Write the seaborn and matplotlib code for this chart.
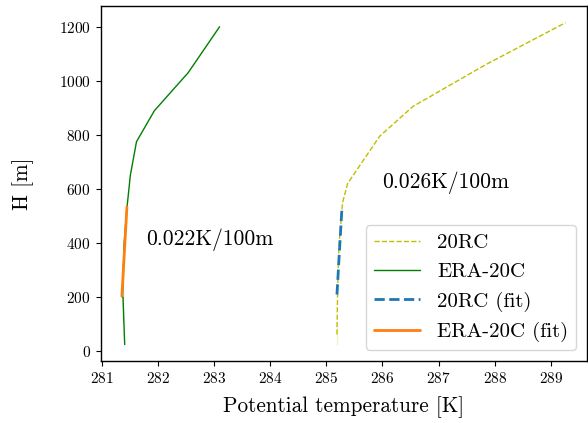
import numpy as np
import pandas as pd
import matplotlib
matplotlib.use('Agg')
import matplotlib.pyplot as plt
import seaborn as sns

# profile data
h_20rc = [25, 100, 200, 300, 400, 550, 620, 685, 795, 905, 1060, 1215]
t_20rc = [285.19, 285.19, 285.20, 285.21, 285.23, 285.29, 285.38, 285.59, 285.95, 286.54, 287.84, 289.26]

h_era = [25, 100, 200, 300, 400, 530, 650, 775, 890, 1030, 1200]
t_era = [281.41, 281.38, 281.37, 281.38, 281.40, 281.45, 281.51, 281.62, 281.94, 282.54, 283.10]

# linear fits (end points)
h_fit_20rc = [210, 534]
t_fit_20rc = [285.19, 285.28]
h_fit_era = [204, 534]
t_fit_era = [281.36, 281.45]

label_20rc = '0.026K/100m'
label_era = '0.022K/100m'

sns.set_style('ticks')
plt.rcParams.update({
    'font.family': ['cmr10', 'DejaVu Serif'],
    'mathtext.fontset': 'cm',
    'axes.formatter.use_mathtext': True,
    'axes.edgecolor': 'black',
    'axes.labelcolor': 'black',
    'xtick.color': 'black',
    'ytick.color': 'black',
    'text.color': 'black',
    'axes.linewidth': 1.0,
})

fig, ax = plt.subplots(figsize=(5.88, 4.23), dpi=100)
fig.subplots_adjust(left=0.171, right=0.998, top=0.986, bottom=0.147)

df_20rc = pd.DataFrame({'T': t_20rc, 'H': h_20rc})
df_era = pd.DataFrame({'T': t_era, 'H': h_era})
df_f20 = pd.DataFrame({'T': t_fit_20rc, 'H': h_fit_20rc})
df_fera = pd.DataFrame({'T': t_fit_era, 'H': h_fit_era})

sns.lineplot(data=df_20rc, x='T', y='H', sort=False, ax=ax, color='y',
             linestyle='--', linewidth=1.0, label='20RC')
sns.lineplot(data=df_era, x='T', y='H', sort=False, ax=ax, color='g',
             linewidth=1.0, label='ERA-20C')
sns.lineplot(data=df_f20, x='T', y='H', sort=False, ax=ax, color='C0',
             linestyle='--', linewidth=2.0, label='20RC (fit)')
sns.lineplot(data=df_fera, x='T', y='H', sort=False, ax=ax, color='C1',
             linewidth=2.0, label='ERA-20C (fit)')

ax.text(281.8, 413, label_era, fontsize=15.5, va='center', ha='left')
ax.text(286.0, 622, label_20rc, fontsize=15.5, va='center', ha='left')

ax.set_xlim(280.98, 289.64)
ax.set_ylim(-35, 1277)
ax.set_xticks(np.arange(281, 290))
ax.set_yticks(np.arange(0, 1201, 200))
ax.tick_params(labelsize=11)
ax.set_xlabel('Potential temperature [K]', fontsize=15.3, labelpad=8)
ax.set_ylabel('H [m]', fontsize=15.3, labelpad=18)

ax.legend(loc='lower right', fontsize=15, frameon=True, handlelength=2.2)

fig.savefig('out.png', dpi=100)
